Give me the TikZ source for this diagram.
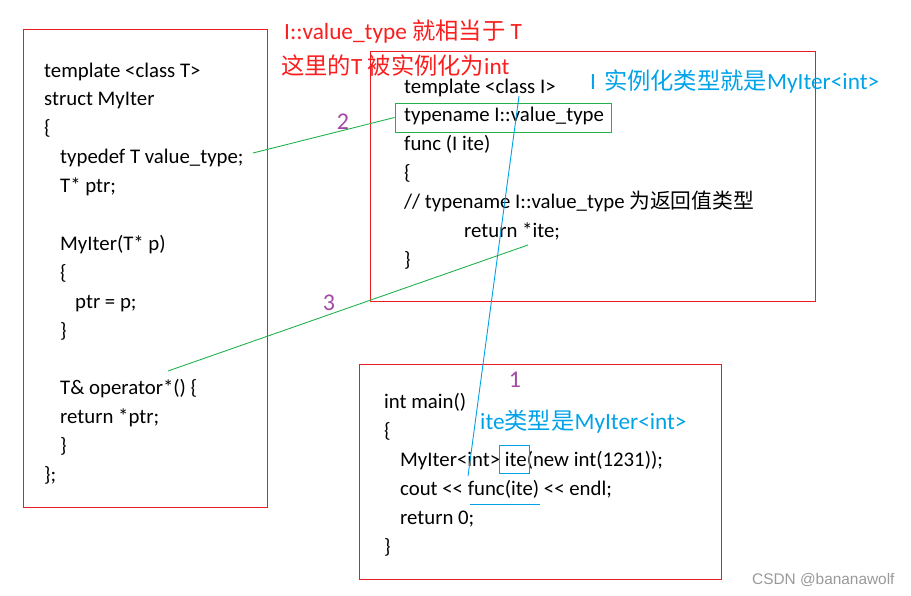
\documentclass[tikz,border=0pt]{standalone}
\usepackage{fontspec}
\setmainfont{Carlito}
\newfontfamily\cjk{Noto Sans CJK SC}
\newfontfamily\wmfont{Liberation Sans}
\usetikzlibrary{positioning}
\definecolor{framered}{RGB}{237,28,36}
\definecolor{notered}{RGB}{250,30,30}
\definecolor{linkgreen}{RGB}{34,177,76}
\definecolor{noteblue}{RGB}{0,162,232}
\definecolor{stepnum}{RGB}{163,73,164}

\begin{document}
\begin{tikzpicture}[
        x=1pt, y=-1pt,
        frame/.style={draw=framered, line width=1pt},
        code/.style={anchor=base west, inner sep=0pt, font=\fontsize{20.8}{25}\selectfont},
        note/.style={anchor=base west, inner sep=0pt, font=\fontsize{23.3}{27}\selectfont},
        num/.style={anchor=base, inner sep=0pt, text=stepnum, font=\fontsize{24}{28}\selectfont},
        hilite/.style={draw=#1, line width=1pt, inner sep=0pt},
        link/.style={draw=linkgreen, line width=0.9pt},
        blink/.style={draw=noteblue, line width=0.9pt}
    ]
    \useasboundingbox (0,0) rectangle (911,595);

    % the three code frames
    \draw[frame] (23,29) rectangle (267,507);
    \draw[frame] (370,51) rectangle (815,301);
    \draw[frame] (359,364) rectangle (721,579);

    % struct MyIter
    \foreach \row/\ln in {0/{template <class T>}, 1/{struct MyIter}, 2/{\{},
            3/{\hspace*{16pt}typedef T value\_type;}, 4/{\hspace*{16pt}T* ptr;},
            6/{\hspace*{16pt}MyIter(T* p)}, 7/{\hspace*{16pt}\{}, 8/{\hspace*{31pt}ptr = p;},
            9/{\hspace*{16pt}\}}, 11/{\hspace*{16pt}T\& operator*() \{},
            12/{\hspace*{16pt}return *ptr;}, 13/{\hspace*{16pt}\}}, 14/{\};}}
        \node[code] (iter\row) at (44,{77+28.9*\row}) {\ln};

    % func
    \foreach \row/\ln in {0/{template <class I>}, 1/{typename I::value\_type}, 2/{func (I ite)},
            3/{\{}, 4/{// typename I::value\_type {\cjk 为返回值类型}},
            5/{\hspace*{60pt}return *ite;}, 6/{\}}}
        \node[code] (func\row) at (404,{93+28.9*\row}) {\ln};

    % main
    \foreach \row/\ln in {0/{int main()}, 1/{\{},
            2/{\hspace*{16pt}MyIter<int> ite(new int(1231));},
            3/{\hspace*{16pt}cout <{}< func(ite) <{}< endl;},
            4/{\hspace*{16pt}return 0;}, 5/{\}}}
        \node[code] (main\row) at (384,{408+29*\row}) {\ln};

    \node[hilite=linkgreen, minimum width=216pt, minimum height=29pt] (vtype) at (503,117.5) {};
    \node[hilite=noteblue, minimum width=30pt, minimum height=28pt] (itebox) at (514,459) {};

    % notes
    \node[note, text=notered] (same) at (284,39) {I::value\_type {\cjk 就相当于} T};
    \node[note, text=notered] (inst) at (281,74) {{\cjk 这里的}T {\cjk 被实例化为}int};
    \node[note, text=noteblue] (itype) at (590,89) {I\hspace{8pt}{\cjk 实例化类型就是}MyIter<int>};
    \node[note, text=noteblue] (etype) at (480,429) {ite{\cjk 类型是}MyIter<int>};

    \node[num] (n2) at (343,129) {2};
    \node[num] (n3) at (329,310) {3};
    \node[num] (n1) at (515,387) {1};

    % links
    \coordinate (typedefend) at (253,153);
    \coordinate (opend) at (168,371);
    \coordinate (retend) at (528,245);
    \coordinate (clsI) at (519,96);
    \coordinate (iteend) at (468,476);
    \coordinate (ula) at (470,504);
    \coordinate (ulb) at (540,504);
    \draw[link] (typedefend) -- (vtype.west);
    \draw[link] (opend) -- (retend);
    \draw[blink] (clsI) -- (iteend);
    \draw[blink] (ula) -- (ulb);

    \node[anchor=base west, inner sep=0pt, text=black!40, font=\wmfont\fontsize{15.4}{18}\selectfont] (wm) at (752,584) {CSDN @bananawolf};
\end{tikzpicture}
\end{document}
